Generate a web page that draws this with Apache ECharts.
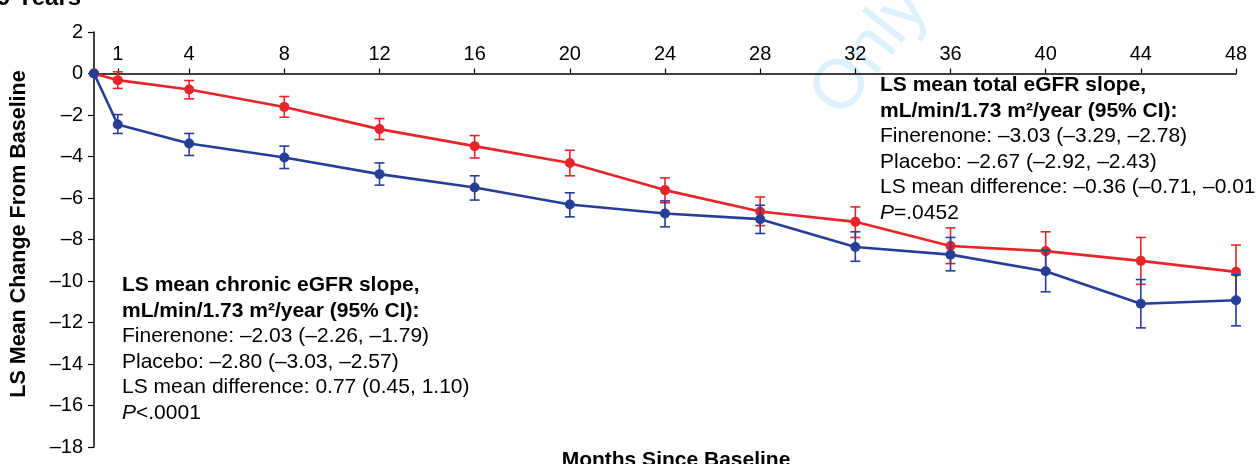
<!DOCTYPE html>
<html>
<head>
<meta charset="utf-8">
<script src="https://cdn.jsdelivr.net/npm/echarts@6/dist/echarts.min.js"></script>
<style>
  html, body { margin: 0; padding: 0; background: #fff; }
  #chart { width: 1256px; height: 464px; }
</style>
</head>
<body>
<div id="chart"></div>
<script>
// Visit months (0 = baseline)
const months = [0, 1, 4, 8, 12, 16, 20, 24, 28, 32, 36, 40, 44, 48];
const monthTicks = [1, 4, 8, 12, 16, 20, 24, 28, 32, 36, 40, 44, 48];

// Finerenone: LS mean change from baseline with 95% CI bounds
const finerenoneMean = [0, -2.46, -3.37, -4.05, -4.85, -5.49, -6.31, -6.75, -7.02, -8.36, -8.73, -9.53, -11.10, -10.93];
const finerenoneLow  = [null, -2.89, -3.95, -4.58, -5.38, -6.10, -6.91, -7.39, -7.71, -9.05, -9.51, -10.52, -12.26, -12.16];
const finerenoneHigh = [null, -1.98, -2.89, -3.50, -4.31, -4.93, -5.75, -6.14, -6.35, -7.63, -7.90, -8.52, -9.93, -9.70];

// Placebo: LS mean change from baseline with 95% CI bounds
const placeboMean = [0, -0.32, -0.77, -1.61, -2.68, -3.50, -4.31, -5.62, -6.65, -7.15, -8.31, -8.56, -9.03, -9.56];
const placeboLow  = [null, -0.72, -1.22, -2.11, -3.18, -4.07, -4.93, -6.23, -7.33, -7.90, -9.16, -9.49, -10.16, -10.85];
const placeboHigh = [null, 0.08, -0.34, -1.11, -2.17, -2.99, -3.70, -5.03, -5.95, -6.43, -7.44, -7.63, -7.90, -8.27];

const BLUE = '#263e97';
const RED = '#e8242b';
const FONT = '"Liberation Sans", Arial, Helvetica, sans-serif';

const pairs = (ys) => months.map((m, i) => [m, ys[i]]);
const ciRows = (lo, hi) => months
  .map((m, i) => [m, lo[i], hi[i]])
  .filter(r => r[1] !== null);

function errorBars(color) {
  return function (params, api) {
    const x = api.value(0);
    const top = api.coord([x, api.value(2)]);
    const bot = api.coord([x, api.value(1)]);
    const cap = 5;
    const style = { stroke: color, lineWidth: 1.6 };
    return {
      type: 'group',
      children: [
        { type: 'line', shape: { x1: top[0], y1: top[1], x2: bot[0], y2: bot[1] }, style },
        { type: 'line', shape: { x1: top[0] - cap, y1: top[1], x2: top[0] + cap, y2: top[1] }, style },
        { type: 'line', shape: { x1: bot[0] - cap, y1: bot[1], x2: bot[0] + cap, y2: bot[1] }, style }
      ]
    };
  };
}

const dash = (v) => String(v).replace('-', '\u2013');

const TXT = 21;
const LH = 25.5;
const rich = {
  b: { fontFamily: FONT, fontSize: TXT, fontWeight: 'bold', color: '#000', lineHeight: LH },
  blue: { fontFamily: FONT, fontSize: TXT, color: BLUE, lineHeight: LH },
  red: { fontFamily: FONT, fontSize: TXT, color: RED, lineHeight: LH },
  k: { fontFamily: FONT, fontSize: TXT, color: '#000', lineHeight: LH },
  i: { fontFamily: FONT, fontSize: TXT, fontStyle: 'italic', color: '#000', lineHeight: LH }
};

function statsBlock(x, y, title, fin, pla, diff, pval) {
  return {
    type: 'text',
    left: x, top: y,
    z: 10,
    style: {
      text: [
        '{b|' + title + '}',
        '{b|mL/min/1.73 m\u00b2/year (95% CI):}',
        '{blue|Finerenone: ' + fin + '}',
        '{red|Placebo: ' + pla + '}',
        '{k|LS mean difference: ' + diff + '}',
        '{i|P}{k|' + pval + '}'
      ].join('\n'),
      rich: rich
    }
  };
}

const chart = echarts.init(document.getElementById('chart'), null, { renderer: 'canvas' });

chart.setOption({
  animation: false,
  backgroundColor: '#fff',
  grid: { left: 94, right: 20, top: 32, bottom: 17, containLabel: false },
  xAxis: {
    type: 'value',
    min: 0, max: 48,
    position: 'top',
    axisLine: { onZero: true, lineStyle: { color: '#000', width: 1.5 } },
    axisTick: { show: true, customValues: monthTicks, length: 5, lineStyle: { color: '#000', width: 1.2 } },
    // month labels sit just above the zero line
    axisLabel: { customValues: monthTicks, color: '#000', fontSize: 20, fontFamily: FONT, margin: -32 },
    splitLine: { show: false }
  },
  yAxis: {
    type: 'value',
    min: -18, max: 2, interval: 2,
    axisLine: { show: true, onZero: false, lineStyle: { color: '#000', width: 1.5 } },
    axisTick: { show: true, length: 6, lineStyle: { color: '#000', width: 1.2 } },
    axisLabel: { color: '#000', fontSize: 20, fontFamily: FONT, margin: 11, formatter: dash },
    splitLine: { show: false }
  },
  graphic: [
    {
      type: 'text', left: -3, top: -14,
      style: { text: '9 Years', fontFamily: FONT, fontSize: 24, fontWeight: 'bold', fill: '#000' }
    },
    {
      type: 'text', x: 19, y: 234, rotation: Math.PI / 2,
      style: {
        text: 'LS Mean Change From Baseline', fontFamily: FONT, fontSize: 21.5, fontWeight: 'bold',
        fill: '#000', align: 'center', verticalAlign: 'middle'
      }
    },
    {
      type: 'text', x: 676, y: 460,
      style: {
        text: 'Months Since Baseline', fontFamily: FONT, fontSize: 21, fontWeight: 'bold',
        fill: '#000', align: 'center', verticalAlign: 'middle'
      }
    },
    {
      type: 'text', x: 915, y: -5, rotation: 0.9, z: -1,
      style: {
        text: 'Only', fontFamily: FONT, fontSize: 70, fill: '#dcf1fb',
        align: 'right', verticalAlign: 'middle'
      }
    },
    statsBlock(880, 75, 'LS mean total eGFR slope,',
      '\u20133.03 (\u20133.29, \u20132.78)', '\u20132.67 (\u20132.92, \u20132.43)',
      '\u20130.36 (\u20130.71, \u20130.01)', '=.0452'),
    statsBlock(122, 275, 'LS mean chronic eGFR slope,',
      '\u20132.03 (\u20132.26, \u20131.79)', '\u20132.80 (\u20133.03, \u20132.57)',
      '0.77 (0.45, 1.10)', '<.0001')
  ],
  series: [
    {
      type: 'custom', name: 'Placebo CI', renderItem: errorBars(RED),
      data: ciRows(placeboLow, placeboHigh), encode: { x: 0, y: [1, 2] }, z: 2
    },
    {
      type: 'line', name: 'Placebo', data: pairs(placeboMean),
      symbol: 'circle', symbolSize: 10, z: 3,
      lineStyle: { color: RED, width: 2.6 }, itemStyle: { color: RED }
    },
    {
      type: 'custom', name: 'Finerenone CI', renderItem: errorBars(BLUE),
      data: ciRows(finerenoneLow, finerenoneHigh), encode: { x: 0, y: [1, 2] }, z: 4
    },
    {
      type: 'line', name: 'Finerenone', data: pairs(finerenoneMean),
      symbol: 'circle', symbolSize: 10, z: 5,
      lineStyle: { color: BLUE, width: 2.6 }, itemStyle: { color: BLUE }
    }
  ]
});
</script>
</body>
</html>
